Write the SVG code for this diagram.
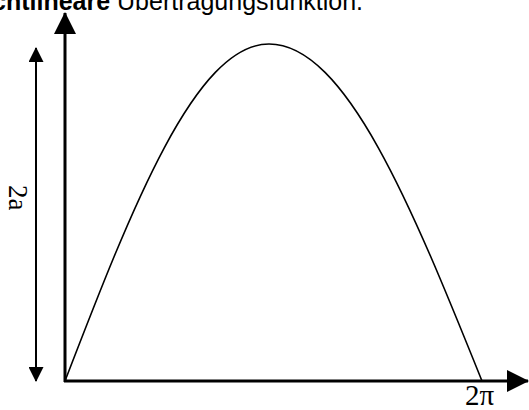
<svg xmlns="http://www.w3.org/2000/svg" width="529" height="410" viewBox="0 0 529 410">
<style>
.title{font-family:"Liberation Sans",Arial,sans-serif;font-size:25px;fill:#000}
.lbl{font-family:"Liberation Serif","Times New Roman",serif;fill:#000}
.axis{stroke:#000;stroke-width:3;fill:none}
.dim{stroke:#000;stroke-width:2;fill:none}
.curve{stroke:#000;stroke-width:1.6;fill:none}
</style>
<defs>
<marker id="bigArrow" viewBox="0 0 22 22" markerWidth="22" markerHeight="22" refX="21" refY="11" orient="auto" markerUnits="userSpaceOnUse">
<path d="M0,0 L22,11 L0,22 Z" fill="#000"/>
</marker>
<marker id="smallArrow" viewBox="0 0 15 15" markerWidth="15" markerHeight="15" refX="14" refY="7.5" orient="auto" markerUnits="userSpaceOnUse">
<path d="M0,0 L15,7.5 L0,15 Z" fill="#000"/>
</marker>
</defs>
<g id="title">
<text class="title" x="-33" y="10"><tspan font-weight="bold">Nichtlineare</tspan> Übertragungsfunktion.</text>
</g>
<g id="connectors">
<line id="y-axis" class="axis" x1="65" y1="382" x2="65" y2="13" marker-end="url(#bigArrow)"/>
<line id="x-axis" class="axis" x1="64" y1="381" x2="528" y2="381" marker-end="url(#bigArrow)"/>
<line id="dim-2a-up" class="dim" x1="36" y1="210" x2="36" y2="48" marker-end="url(#smallArrow)"/>
<line id="dim-2a-down" class="dim" x1="36" y1="210" x2="36" y2="381" marker-end="url(#smallArrow)"/>
</g>
<g id="curve">
<path class="curve" d="M65,381 C131.5,208.4 195.2,44 269,44 C346.1,44 412.5,208.4 482,381"/>
</g>
<g id="label-2a">
<text class="lbl" font-size="27" transform="translate(9,185) rotate(90)">2a</text>
</g>
<g id="label-2pi">
<text class="lbl" font-size="29" x="465" y="405">2π</text>
</g>
</svg>
